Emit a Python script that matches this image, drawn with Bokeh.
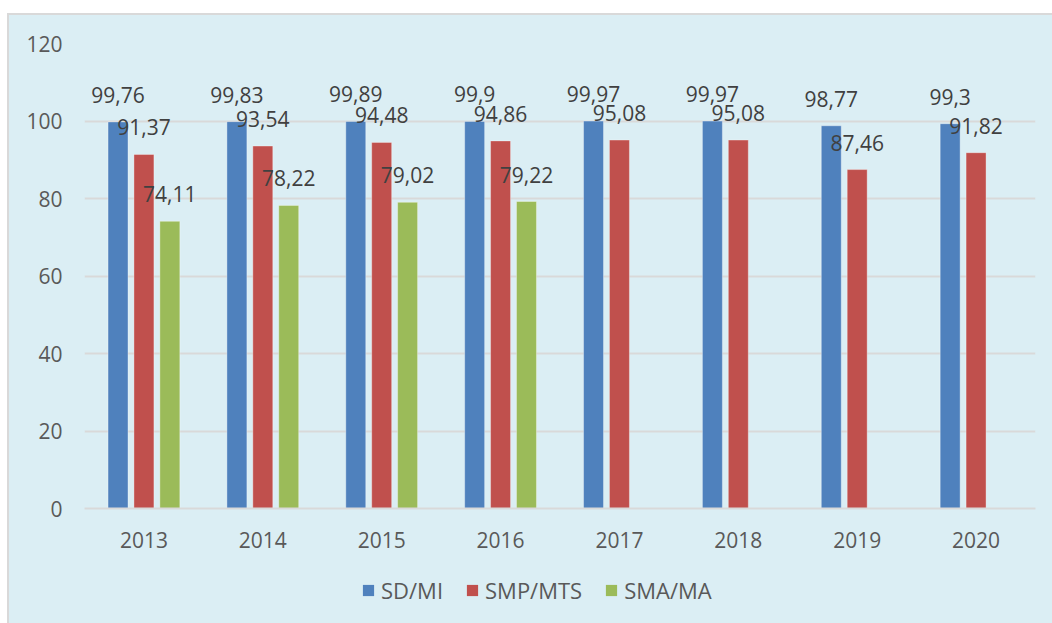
from bokeh.plotting import figure
from bokeh.models import ColumnDataSource, LabelSet, Legend, LegendItem, Spacer, FactorRange
from bokeh.layouts import column, row
from bokeh.transform import dodge
from bokeh.core.properties import value
from bokeh.embed import file_html
from bokeh.resources import INLINE

years = ["2013", "2014", "2015", "2016", "2017", "2018", "2019", "2020"]
sd_mi = [99.76, 99.83, 99.89, 99.9, 99.97, 99.97, 98.77, 99.3]
smp_mts = [91.37, 93.54, 94.48, 94.86, 95.08, 95.08, 87.46, 91.82]
sma_ma_years = ["2013", "2014", "2015", "2016"]
sma_ma = [74.11, 78.22, 79.02, 79.22]
series_names = ["SD/MI", "SMP/MTS", "SMA/MA"]
y_ticks = [0, 20, 40, 60, 80, 100, 120]

colors = ["#4F81BD", "#C0504D", "#9BBB59"]
BG = "#DBEEF4"
FONT = "Open Sans"


def fmt(v):
    return str(v).replace(".", ",")


src_sd = ColumnDataSource(dict(x=years, y=sd_mi, t=[fmt(v) for v in sd_mi]))
src_smp = ColumnDataSource(dict(x=years, y=smp_mts, t=[fmt(v) for v in smp_mts]))
src_sma = ColumnDataSource(dict(x=sma_ma_years, y=sma_ma, t=[fmt(v) for v in sma_ma]))

p = figure(x_range=FactorRange(*years, range_padding=0), y_range=(0, 120),
           width=1043, height=545, output_backend="svg", toolbar_location=None,
           min_border_left=75, min_border_right=17, min_border_top=28, min_border_bottom=52)
p.background_fill_color = None
p.border_fill_color = BG
p.outline_line_color = None

off = 0.218
bw = 0.168
for src, o, c in [(src_sd, -off, colors[0]), (src_smp, 0, colors[1]), (src_sma, off, colors[2])]:
    p.vbar(x=dodge("x", o, range=p.x_range), top="y", width=bw, source=src,
           fill_color=c, line_color="white", line_alpha=0.35, line_width=1)
    labels = LabelSet(x=dodge("x", o, range=p.x_range), y="y", text="t", source=src,
                      text_align="center", text_baseline="alphabetic", y_offset=19,
                      text_font=value(FONT), text_font_size="21px", text_color="#404040")
    p.add_layout(labels)

p.yaxis.ticker = y_ticks
p.yaxis.axis_line_color = None
p.yaxis.major_tick_line_color = None
p.yaxis.minor_tick_line_color = None
p.yaxis.major_label_standoff = 16
p.yaxis.major_label_text_font = FONT
p.yaxis.major_label_text_font_size = "21px"
p.yaxis.major_label_text_color = "#595959"

p.xaxis.axis_line_color = "#D9D9D9"
p.xaxis.axis_line_width = 2
p.xaxis.major_tick_line_color = None
p.xaxis.minor_tick_line_color = None
p.xaxis.major_label_standoff = 17
p.xaxis.major_label_text_font = FONT
p.xaxis.major_label_text_font_size = "21px"
p.xaxis.major_label_text_color = "#595959"

p.xgrid.grid_line_color = None
p.ygrid.grid_line_color = "#D9D9D9"
p.ygrid.grid_line_width = 2

# legend strip below the chart
lf = figure(width=1043, height=63, output_backend="svg", toolbar_location=None,
            x_range=(0, 1), y_range=(0, 1), x_axis_type=None, y_axis_type=None,
            min_border_left=0, min_border_right=0, min_border_top=0, min_border_bottom=0)
lf.grid.grid_line_color = None
lf.background_fill_color = None
lf.border_fill_color = BG
lf.outline_line_color = None
dummies = [lf.vbar(x=[-5], top=[-5], bottom=[-6], width=0.1, fill_color=c, line_color=None)
           for c in colors]
legend = Legend(items=[LegendItem(label=n, renderers=[r]) for n, r in zip(series_names, dummies)],
                orientation="horizontal", location=(277, 18),
                label_text_font=FONT, label_text_font_size="22px", label_text_color="#595959",
                glyph_width=14, glyph_height=14, label_standoff=6, spacing=22,
                background_fill_alpha=0, border_line_color=None, margin=0, padding=4)
lf.add_layout(legend)

inner = column(p, lf, spacing=0,
               styles={"border-left": "2px solid #D9D9D9", "border-top": "2px solid #D9D9D9",
                       "background-color": BG})
layout = row(Spacer(width=7), column(Spacer(height=13), inner, spacing=0), spacing=0)
open("out.html", "w").write(file_html(layout, INLINE))
